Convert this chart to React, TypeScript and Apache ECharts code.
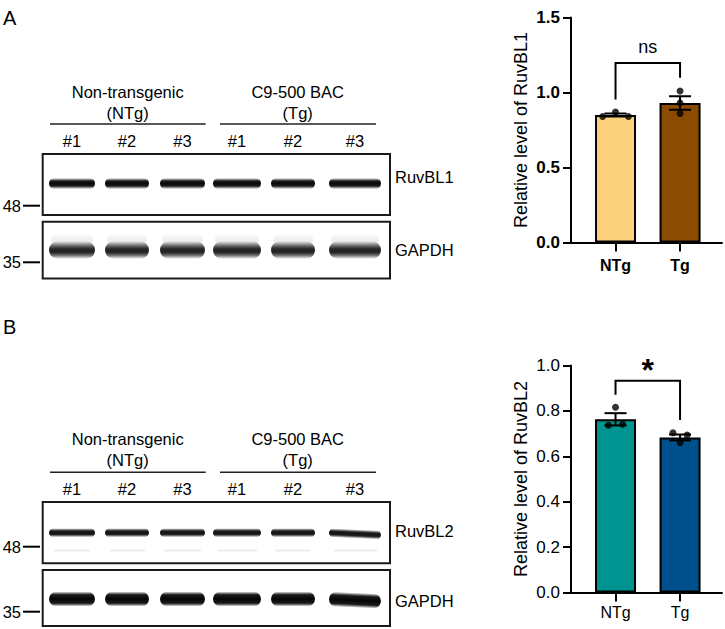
import React, { useEffect, useRef } from 'react';
import * as echarts from 'echarts';

// ---------- data ----------
const categories = ['NTg', 'Tg'];
const meansA = [0.85, 0.93];
const semA = [0.01, 0.045];
const pointsA_NTg = [0.84, 0.87, 0.84];
const pointsA_Tg = [1.01, 0.93, 0.86];
const meansB = [0.763, 0.683];
const semB = [0.027, 0.013];
const pointsB_NTg = [0.816, 0.737, 0.741];
const pointsB_Tg = [0.704, 0.694, 0.66];
const sigA = 'ns';
const sigB = '*';
const laneLabels = ['#1', '#2', '#3', '#1', '#2', '#3'];
const groupLabels = [['Non-transgenic', '(NTg)'], ['C9-500 BAC', '(Tg)']];
const markers = ['48', '35'];

// ---------- layout / style ----------
const FONT = '"Liberation Sans", Arial, sans-serif';
const colorsA = ['#FDD27E', '#8B4B00'];
const colorsB = ['#009490', '#00508D'];
const jitterA = [[-0.2, 0, 0.2], [0, 0, 0]];
const jitterB = [[0, -0.11, 0.11], [-0.11, 0.11, 0]];
const bracketA = { left: 0.953, right: 1.099, top: 1.197, label: 1.305 };
const bracketB = { left: 0.871, right: 0.76, top: 0.933, label: 0.98 };

const lanesX = [[49, 95], [105, 149], [160, 205], [213, 261], [271, 315], [329, 381]];
const FS = 16.5;

function txt(text: string, x: number, y: number, size: number, align = 'center', bold = false) {
  return {
    type: 'text', x, y, z: 10,
    style: {
      text, fontSize: size, fontFamily: FONT, fontWeight: bold ? 'bold' : 'normal', fill: '#000',
      textAlign: align, textVerticalAlign: 'middle', align, verticalAlign: 'middle',
    },
  };
}
function ln(x1: number, y1: number, x2: number, y2: number, w = 2, c = '#000') {
  return { type: 'line', z: 10, shape: { x1, y1, x2, y2 }, style: { stroke: c, lineWidth: w } };
}
function grad(stops: [number, string][]) {
  return new echarts.graphic.LinearGradient(0, 0, 0, 1, stops.map(([offset, color]) => ({ offset, color })));
}
function band(x1: number, x2: number, cy: number, h: number, stops: [number, string][], rot = 0) {
  return {
    type: 'rect', z: 5,
    x: x1, y: cy, rotation: rot, originX: 0, originY: 0,
    shape: { x: 0, y: -h / 2, width: x2 - x1, height: h, r: h / 2 },
    style: { fill: grad(stops) },
  };
}

const T = 'rgba(0,0,0,0)';
function panel(p: any) {
  const els: any[] = [];
  els.push(txt(p.letter, 3, p.letterY, 20, 'left'));
  els.push(txt(groupLabels[0][0], 127.7, p.hdr1Y, FS));
  els.push(txt(groupLabels[0][1], 127.7, p.hdr2Y, FS));
  els.push(txt(groupLabels[1][0], 297.7, p.hdr1Y, FS));
  els.push(txt(groupLabels[1][1], 297.7, p.hdr2Y, FS));
  els.push(ln(50, p.lineY, 205.7, p.lineY, 1.5, '#222'));
  els.push(ln(220, p.lineY, 376, p.lineY, 1.5, '#222'));
  laneLabels.forEach((l, i) => {
    const cx = (lanesX[i][0] + lanesX[i][1]) / 2;
    els.push(txt(l, cx, p.laneY, FS));
  });
  els.push({ type: 'rect', z: 4, shape: { x: 42.7, y: p.box1[0], width: 347.3, height: p.box1[1] - p.box1[0] }, style: { fill: '#fff', stroke: '#1a1a1a', lineWidth: 2 } });
  els.push({ type: 'rect', z: 4, shape: { x: 42.7, y: p.box2[0], width: 347.3, height: p.box2[1] - p.box2[0] }, style: { fill: '#fff', stroke: '#1a1a1a', lineWidth: 2 } });
  lanesX.forEach(([a, b], i) => {
    const rot = p.tiltLast && i === 5 ? -0.045 : 0;
    if (p.faintY) els.push(band(a + 4, b - 4, p.faintY, 4, [[0, T], [0.5, 'rgba(0,0,0,0.07)'], [1, T]]));
    if (p.haloY) els.push(band(a + 2, b - 2, p.haloY, 14, [[0, T], [0.5, 'rgba(0,0,0,0.07)'], [1, T]]));
    els.push(band(a, b, p.band1Y, p.band1H, p.band1Stops, rot));
    els.push(band(a, b, p.band2Y, p.band2H, p.band2Stops, rot));
  });
  els.push(txt(markers[0], 21, p.m48, FS, 'right'));
  els.push(ln(23, p.m48, 40, p.m48, 2));
  els.push(txt(markers[1], 21, p.m35, FS, 'right'));
  els.push(ln(23, p.m35, 40, p.m35, 2));
  els.push(txt(p.lbl1, 395, p.lbl1Y, FS, 'left'));
  els.push(txt('GAPDH', 395, p.lbl2Y, FS, 'left'));
  return els;
}

const panelA = {
  letter: 'A', letterY: 18, hdr1Y: 91.7, hdr2Y: 113.3, lineY: 124, laneY: 141,
  box1: [154, 215], box2: [221.7, 278.5],
  band1Y: 183.5, band1H: 11, band1Stops: [[0, T], [0.28, '#1a1a1a'], [0.5, '#0a0a0a'], [0.72, '#1a1a1a'], [1, T]],
  band2Y: 250, band2H: 18, band2Stops: [[0, T], [0.25, 'rgba(0,0,0,0.55)'], [0.45, '#262626'], [0.62, '#222'], [0.8, 'rgba(0,0,0,0.55)'], [1, T]],
  haloY: 240,
  m48: 205.7, m35: 262.3, lbl1: 'RuvBL1', lbl1Y: 177, lbl2Y: 250,
};
const panelB = {
  letter: 'B', letterY: 327, hdr1Y: 439.3, hdr2Y: 460, lineY: 472.3, laneY: 489,
  box1: [502, 563.3], box2: [570, 626],
  band1Y: 532.7, band1H: 9, band1Stops: [[0, T], [0.3, '#222'], [0.5, '#111'], [0.7, '#222'], [1, T]],
  band2Y: 599, band2H: 15, band2Stops: [[0, T], [0.22, '#1a1a1a'], [0.5, '#050505'], [0.78, '#1a1a1a'], [1, T]],
  faintY: 550.5, tiltLast: true,
  m48: 546.7, m35: 611.7, lbl1: 'RuvBL2', lbl1Y: 531, lbl2Y: 601,
};

function xAxisCfg(gi: number, bold: boolean, labelMargin: number) {
  return {
    type: 'value', gridIndex: gi, min: -0.69, max: 1.65,
    axisLine: { show: true, onZero: false, lineStyle: { color: '#000', width: 2 } },
    axisTick: { show: true, customValues: [0, 1], length: 9, lineStyle: { color: '#000', width: 2 } },
    axisLabel: {
      show: true, customValues: [0, 1], margin: labelMargin,
      formatter: (v: number) => categories[Math.round(v)] ?? '',
      color: '#000', fontSize: 16, fontWeight: bold ? 'bold' : 'normal', fontFamily: FONT,
    },
    splitLine: { show: false },
  };
}
function yAxisCfg(gi: number, max: number, interval: number, name: string, bold: boolean) {
  return {
    type: 'value', gridIndex: gi, min: 0, max, interval,
    name, nameLocation: 'middle', nameGap: 41,
    nameTextStyle: { color: '#000', fontSize: 18, fontFamily: FONT },
    axisLine: { show: true, onZero: false, lineStyle: { color: '#000', width: 2 } },
    axisTick: { show: true, length: 8, lineStyle: { color: '#000', width: 2 } },
    axisLabel: {
      margin: 11, color: '#000', fontSize: 17, fontWeight: bold ? 'bold' : 'normal', fontFamily: FONT,
      formatter: (v: number) => v.toFixed(1),
    },
    splitLine: { show: false },
  };
}

function errSeries(idx: number, means: number[], sem: number[]) {
  return {
    type: 'custom', xAxisIndex: idx, yAxisIndex: idx, z: 6,
    data: means.map((m, i) => [i, m, sem[i]]),
    encode: { x: 0, y: 1 },
    renderItem: (_p: any, api: any) => {
      const x = api.value(0), m = api.value(1), s = api.value(2);
      const t = api.coord([x, m + s]), b = api.coord([x, m - s]);
      const hw = 11;
      const st = { stroke: '#000', lineWidth: 2 };
      return {
        type: 'group', children: [
          { type: 'line', shape: { x1: t[0], y1: t[1], x2: b[0], y2: b[1] }, style: st },
          { type: 'line', shape: { x1: t[0] - hw, y1: t[1], x2: t[0] + hw, y2: t[1] }, style: st },
          { type: 'line', shape: { x1: b[0] - hw, y1: b[1], x2: b[0] + hw, y2: b[1] }, style: st },
        ],
      };
    },
  };
}
function bracketSeries(idx: number, br: any, label: string, size: number, bold: boolean) {
  return {
    type: 'custom', xAxisIndex: idx, yAxisIndex: idx, z: 6,
    data: [[0.5, br.top]], encode: { x: 0, y: 1 },
    renderItem: (_p: any, api: any) => {
      const p0 = api.coord([0, br.left]), p1 = api.coord([0, br.top]);
      const p2 = api.coord([1, br.top]), p3 = api.coord([1, br.right]);
      const pt = api.coord([0.5, br.label]);
      return {
        type: 'group', children: [
          { type: 'polyline', shape: { points: [p0, p1, p2, p3] }, style: { stroke: '#000', lineWidth: 2, fill: 'none' } },
          {
            type: 'text', x: pt[0], y: pt[1],
            style: { text: label, fontSize: size, fontWeight: bold ? 'bold' : 'normal', fontFamily: FONT, fill: '#000', textAlign: 'center', textVerticalAlign: 'middle', align: 'center', verticalAlign: 'middle' },
          },
        ],
      };
    },
  };
}
function pointSeries(idx: number, groups: number[][], jitter: number[][]) {
  const data: number[][] = [];
  groups.forEach((g, gi) => g.forEach((v, k) => data.push([gi + jitter[gi][k], v])));
  return {
    type: 'scatter', xAxisIndex: idx, yAxisIndex: idx, z: 7,
    symbol: 'circle', symbolSize: 7, itemStyle: { color: '#000' }, data,
  };
}
function barSeries(idx: number, means: number[], colors: string[]) {
  return {
    type: 'bar', xAxisIndex: idx, yAxisIndex: idx, barWidth: 41, z: 3,
    data: means.map((m, i) => ({ value: [i, m], itemStyle: { color: colors[i], borderColor: '#000', borderWidth: 2 } })),
  };
}

export default function App() {
  const ref = useRef<HTMLDivElement>(null);
  useEffect(() => {
    document.body.style.margin = '0';
    const chart = echarts.init(ref.current!, undefined, { renderer: 'svg' });
    chart.setOption({
      animation: false,
      backgroundColor: '#fff',
      grid: [
        { left: 571, top: 17.5, width: 151, height: 225 },
        { left: 571, top: 365.5, width: 151, height: 227 },
      ],
      xAxis: [xAxisCfg(0, true, 15), xAxisCfg(1, false, 12)],
      yAxis: [
        yAxisCfg(0, 1.5, 0.5, 'Relative level of RuvBL1', true),
        yAxisCfg(1, 1.0, 0.2, 'Relative level of RuvBL2', false),
      ],
      series: [
        barSeries(0, meansA, colorsA),
        errSeries(0, meansA, semA),
        pointSeries(0, [pointsA_NTg, pointsA_Tg], jitterA),
        bracketSeries(0, bracketA, sigA, 18, false),
        barSeries(1, meansB, colorsB),
        errSeries(1, meansB, semB),
        pointSeries(1, [pointsB_NTg, pointsB_Tg], jitterB),
        bracketSeries(1, bracketB, sigB, 32, true),
      ],
      graphic: [...panel(panelA), ...panel(panelB)],
    });
    return () => chart.dispose();
  }, []);
  return <div ref={ref} style={{ width: 725, height: 629 }} />;
}
